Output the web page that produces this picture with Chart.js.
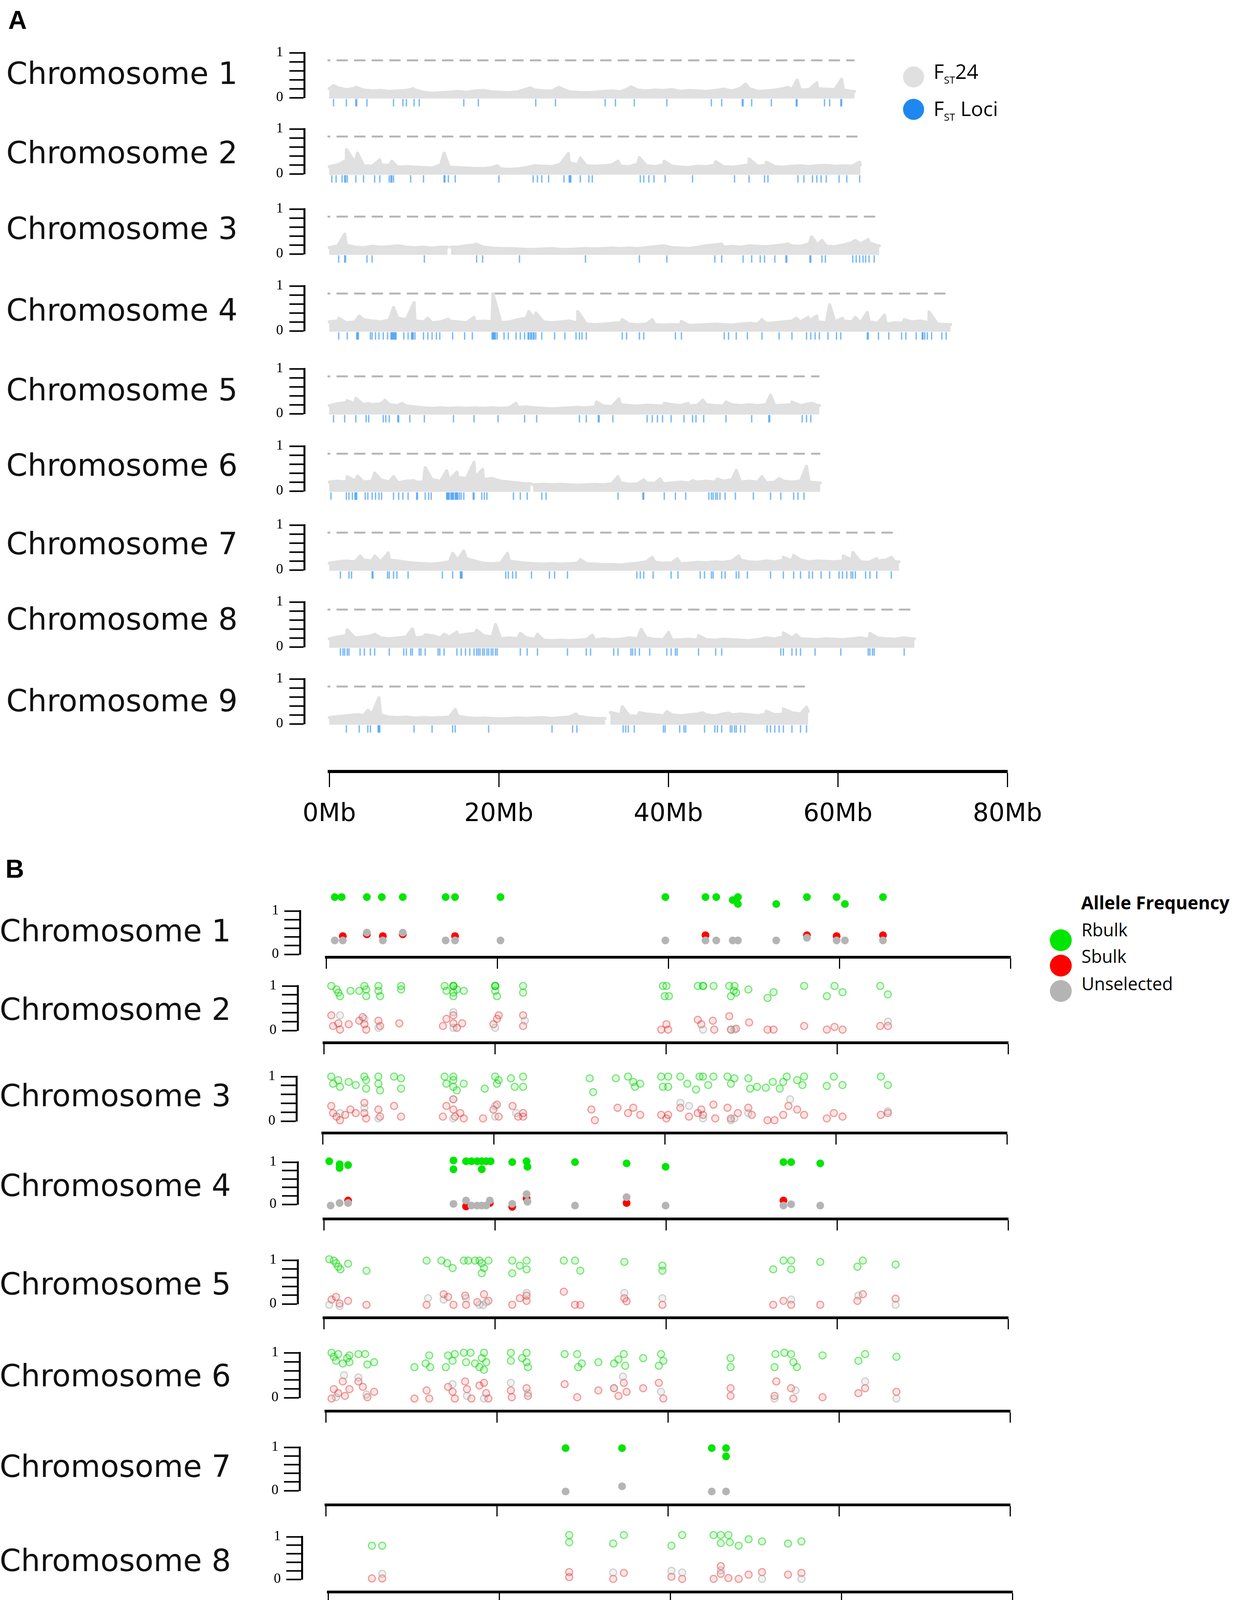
<!DOCTYPE html>
<html><head><meta charset="utf-8">
<script src="https://cdn.jsdelivr.net/npm/chart.js@4.4.1/dist/chart.umd.min.js"></script>
<style>
html,body{margin:0;padding:0;background:#fff;}
#page{position:relative;width:3162px;height:4457px;overflow:hidden;background:#fff;}
canvas{position:absolute;}
.chr{position:absolute;font-family:"DejaVu Sans";font-size:78px;line-height:1;color:#111;white-space:nowrap;}
.panel{position:absolute;font-family:"Liberation Sans";font-weight:bold;font-size:66px;line-height:1;color:#000;}
.leg{position:absolute;font-family:"Open Sans";line-height:1;color:#000;white-space:nowrap;}
.leg sub{font-size:50%;vertical-align:-0.45em;line-height:0;}
.dot{position:absolute;border-radius:50%;}
</style></head>
<body><div id="page"></div>
<script>
// ================= DATA =================
const chromosomes = ['Chromosome 1','Chromosome 2','Chromosome 3','Chromosome 4','Chromosome 5','Chromosome 6','Chromosome 7','Chromosome 8','Chromosome 9'];
const chromLengthMb = [61.3, 62.0, 64.2, 72.5, 57.2, 57.3, 66.5, 68.3, 55.9];
const xTickLabels = ['0Mb','20Mb','40Mb','60Mb','80Mb'];
const yTickLabels = ['0','1'];
const fstThreshold = 0.83;

// FST24 per 1-Mb bin (panel A, grey trace)
const fstChr1 = [0.20,0.22,0.18,0.21,0.17,0.15,0.16,0.14,0.15,0.16, 0.17,0.12,0.10,0.11,0.12,0.14,0.12,0.15,0.16,0.13, 0.12,0.11,0.13,0.19,0.17,0.15,0.15,0.21,0.13,0.12, 0.11,0.12,0.14,0.15,0.13,0.21,0.17,0.15,0.17,0.16, 0.18,0.14,0.16,0.15,0.14,0.16,0.19,0.15,0.21,0.20, 0.14,0.15,0.17,0.20,0.18,0.17,0.18,0.20,0.19,0.18, 0.17,0.14];
const fstChr2 = [0.16,0.20,0.30,0.25,0.18,0.17,0.20,0.19,0.15,0.16, 0.15,0.14,0.13,0.20,0.15,0.14,0.13,0.12,0.12,0.14, 0.11,0.10,0.11,0.14,0.18,0.17,0.16,0.22,0.25,0.20, 0.18,0.17,0.18,0.20,0.17,0.16,0.22,0.18,0.16,0.20, 0.17,0.15,0.14,0.17,0.16,0.19,0.16,0.15,0.17,0.20, 0.17,0.19,0.16,0.15,0.17,0.18,0.16,0.18,0.19,0.17, 0.18,0.17,0.20];
const fstChr3 = [0.14,0.18,0.20,0.15,0.14,0.17,0.15,0.16,0.18,0.15, 0.14,0.15,0.13,0.15,0.12,0.15,0.18,0.20,0.15,0.13, 0.12,0.12,0.11,0.10,0.10,0.11,0.12,0.10,0.10,0.11, 0.12,0.11,0.12,0.13,0.12,0.13,0.12,0.14,0.16,0.18, 0.14,0.13,0.12,0.15,0.18,0.20,0.15,0.17,0.15,0.18, 0.17,0.16,0.18,0.20,0.18,0.17,0.22,0.20,0.17,0.16, 0.20,0.25,0.22,0.25,0.18];
const fstChr4 = [0.20,0.22,0.18,0.20,0.25,0.22,0.20,0.24,0.28,0.25, 0.22,0.20,0.18,0.20,0.22,0.20,0.18,0.20,0.22,0.20, 0.18,0.20,0.25,0.28,0.25,0.20,0.18,0.20,0.22,0.17, 0.15,0.14,0.15,0.17,0.18,0.15,0.14,0.15,0.14,0.13, 0.14,0.13,0.12,0.13,0.14,0.15,0.14,0.13,0.15,0.17, 0.15,0.16,0.18,0.20,0.22,0.20,0.22,0.20,0.18,0.20, 0.22,0.20,0.18,0.20,0.17,0.15,0.18,0.17,0.20,0.22, 0.18,0.15,0.14];
const fstChr5 = [0.18,0.22,0.25,0.22,0.20,0.20,0.22,0.20,0.18,0.17, 0.15,0.13,0.12,0.13,0.12,0.13,0.12,0.13,0.12,0.13, 0.12,0.13,0.14,0.15,0.13,0.12,0.11,0.12,0.13,0.14, 0.13,0.15,0.17,0.16,0.20,0.18,0.17,0.19,0.18,0.17, 0.20,0.18,0.17,0.19,0.20,0.18,0.17,0.20,0.18,0.20, 0.18,0.20,0.18,0.19,0.20,0.18,0.22,0.18];
const fstChr6 = [0.20,0.22,0.20,0.22,0.20,0.22,0.25,0.20,0.18,0.22, 0.20,0.20,0.25,0.22,0.25,0.30,0.28,0.30,0.25,0.28, 0.22,0.20,0.18,0.16,0.14,0.15,0.14,0.15,0.14,0.13, 0.14,0.15,0.14,0.16,0.18,0.15,0.16,0.18,0.17,0.16, 0.18,0.20,0.18,0.20,0.22,0.20,0.22,0.25,0.20,0.22, 0.20,0.18,0.20,0.22,0.20,0.22,0.20,0.18];
const fstChr7 = [0.15,0.18,0.20,0.18,0.22,0.20,0.18,0.22,0.20,0.17, 0.15,0.14,0.13,0.15,0.18,0.22,0.25,0.20,0.15,0.14, 0.15,0.20,0.17,0.15,0.14,0.13,0.14,0.13,0.14,0.15, 0.14,0.13,0.12,0.12,0.11,0.13,0.15,0.18,0.17,0.15, 0.16,0.14,0.15,0.17,0.16,0.18,0.17,0.20,0.22,0.18, 0.17,0.20,0.18,0.22,0.20,0.22,0.18,0.20,0.19,0.18, 0.20,0.22,0.18,0.17,0.20,0.22,0.18];
const fstChr8 = [0.18,0.22,0.25,0.20,0.22,0.25,0.20,0.18,0.20,0.22, 0.20,0.22,0.25,0.20,0.22,0.25,0.28,0.30,0.25,0.22, 0.18,0.20,0.18,0.20,0.17,0.15,0.14,0.15,0.14,0.15, 0.16,0.15,0.18,0.16,0.17,0.20,0.18,0.20,0.17,0.16, 0.15,0.16,0.17,0.15,0.16,0.15,0.17,0.16,0.15,0.14, 0.16,0.20,0.18,0.22,0.20,0.18,0.17,0.16,0.18,0.17, 0.16,0.18,0.20,0.17,0.20,0.18,0.17,0.20,0.18];
const fstChr9 = [0.14,0.16,0.18,0.20,0.18,0.22,0.20,0.15,0.14,0.15, 0.13,0.14,0.13,0.14,0.15,0.17,0.14,0.12,0.13,0.12, 0.11,0.12,0.13,0.12,0.13,0.14,0.12,0.14,0.15,0.17, 0.14,0.12,0.12,0.25,0.20,0.18,0.17,0.22,0.20,0.18, 0.20,0.18,0.20,0.22,0.20,0.18,0.22,0.20,0.22,0.20, 0.18,0.22,0.20,0.22,0.25,0.22,0.28];

// FST24 local peaks [Mb, FST]
const fstPeaksChr1 = [[0.5,0.27],[3.1,0.23],[9.8,0.20],[23.4,0.22],[26.8,0.23],[35.2,0.24],[48.6,0.30],[53.5,0.23],[54.6,0.39],[56.9,0.33],[59.8,0.41]];
const fstPeaksChr2 = [[2.0,0.54],[3.3,0.46],[5.9,0.31],[7.3,0.28],[13.4,0.46],[19.6,0.18],[27.9,0.45],[29.3,0.35],[33.7,0.28],[36.2,0.36],[39.1,0.28],[45.1,0.27],[49.0,0.33],[51.0,0.26],[61.9,0.26]];
const fstPeaksChr3 = [[1.8,0.44],[17.1,0.22],[39.1,0.18],[45.8,0.22],[53.5,0.22],[56.3,0.38],[57.5,0.30],[61.4,0.30],[62.9,0.32]];
const fstPeaksChr4 = [[1.1,0.28],[3.5,0.33],[7.5,0.52],[9.9,0.63],[11.5,0.28],[13.9,0.26],[16.9,0.30],[19.1,0.83],[19.9,0.28],[23.3,0.43],[24.1,0.40],[29.0,0.43],[34.2,0.25],[37.7,0.25],[41.1,0.21],[50.5,0.25],[54.5,0.28],[55.9,0.30],[56.9,0.33],[58.4,0.58],[59.9,0.28],[61.4,0.30],[62.8,0.41],[64.8,0.35],[67.1,0.25],[68.5,0.21],[70.0,0.42]];
const fstPeaksChr5 = [[2.1,0.29],[3.1,0.34],[4.5,0.23],[6.5,0.30],[8.5,0.23],[21.8,0.23],[31.2,0.26],[33.8,0.33],[39.1,0.23],[41.9,0.23],[43.6,0.30],[46.3,0.26],[51.5,0.41],[54.0,0.26],[56.4,0.23]];
const fstPeaksChr6 = [[2.1,0.32],[3.3,0.33],[5.3,0.40],[7.5,0.32],[9.9,0.23],[11.2,0.52],[13.7,0.45],[14.9,0.42],[16.9,0.64],[17.9,0.48],[33.7,0.32],[36.7,0.25],[38.6,0.27],[42.4,0.23],[45.3,0.27],[47.5,0.46],[50.5,0.32],[52.5,0.28],[55.7,0.55]];
const fstPeaksChr7 = [[3.6,0.31],[5.3,0.31],[6.9,0.38],[14.4,0.37],[15.7,0.42],[20.8,0.37],[29.3,0.23],[37.7,0.28],[40.6,0.25],[47.8,0.31],[53.0,0.28],[54.2,0.32],[60.0,0.31],[61.1,0.39],[63.9,0.25],[65.6,0.28]];
const fstPeaksChr8 = [[2.1,0.38],[5.3,0.28],[9.7,0.40],[11.2,0.27],[13.4,0.28],[14.9,0.33],[17.2,0.37],[19.4,0.50],[22.3,0.30],[24.3,0.28],[30.7,0.26],[36.4,0.39],[39.6,0.32],[43.1,0.25],[53.0,0.31],[54.5,0.27],[63.1,0.30],[65.3,0.18]];
const fstPeaksChr9 = [[3.6,0.20],[4.5,0.30],[5.8,0.58],[14.7,0.32],[28.8,0.22],[34.2,0.38],[36.2,0.25],[39.4,0.27],[43.6,0.25],[46.6,0.24],[51.0,0.28],[53.0,0.33],[55.7,0.37]];
const fstGapsMb = [[],[],[[13.8,14.2]],[],[],[[23.5,23.8]],[],[],[[32.2,32.8]]];

// FST loci positions (Mb), panel A blue marks
const lociChr1 = [0.5,2.0,3.1,3.2,4.4,7.5,8.6,9.0,9.9,10.5,15.7,17.4,24.1,26.4,32.2,33.4,35.6,39.4,44.6,45.8,48.2,48.3,49.3,51.6,54.5,54.6,57.8,58.4,59.7,59.8];
const lociChr2 = [0.3,0.8,1.5,1.8,1.9,2.1,3.1,4.0,5.3,5.9,7.0,7.2,7.3,7.5,9.5,11.0,13.4,13.5,13.9,14.7,19.8,23.8,24.3,24.8,25.6,27.4,28.0,28.1,28.2,29.3,30.3,30.7,36.3,36.7,37.3,37.9,39.2,42.4,47.3,49.0,50.8,51.2,54.7,55.4,56.4,56.9,57.4,58.0,59.5,60.4,61.9];
const lociChr3 = [1.1,1.8,1.9,4.4,5.0,11.1,17.2,17.9,22.2,29.9,36.2,39.4,45.0,45.8,48.3,49.3,50.3,50.8,52.0,53.3,53.4,56.1,56.2,57.5,57.9,61.1,61.5,61.9,62.3,62.6,63.0,63.6];
const lociChr4 = [1.1,2.1,3.2,3.3,3.4,4.8,5.0,5.4,5.8,6.3,6.8,7.2,7.3,7.4,7.5,7.6,7.7,7.8,8.7,9.2,9.6,9.7,9.8,10.0,11.0,11.5,12.0,12.5,12.9,14.4,15.8,16.7,19.0,19.1,19.2,19.3,19.4,19.6,20.4,20.9,21.8,22.3,22.8,23.2,23.3,23.5,23.6,23.8,23.9,24.1,24.8,26.3,27.5,28.8,29.2,29.5,30.0,34.2,34.7,36.2,36.7,40.4,41.1,46.1,46.6,47.5,48.8,50.5,52.5,54.0,55.7,56.2,56.7,57.2,58.2,59.2,59.7,62.8,62.9,64.1,65.3,66.8,67.3,68.5,69.2,69.3,69.5,69.8,70.3,71.5,72.0];
const lociChr5 = [0.5,1.8,3.1,4.3,4.6,6.3,6.6,7.0,8.0,8.1,9.4,11.1,14.5,16.9,19.7,22.8,24.2,29.2,30.0,31.4,31.5,33.1,37.1,37.7,38.3,38.9,39.9,41.4,42.4,42.8,43.7,46.3,49.3,51.3,51.4,55.2,55.7,56.2];
const lociChr6 = [0.2,2.0,2.3,2.7,3.0,3.1,3.2,4.2,4.5,5.0,5.4,5.8,6.1,7.5,8.1,8.6,9.2,10.2,10.3,11.2,11.6,11.9,13.7,13.8,13.9,14.0,14.2,14.3,14.4,14.5,14.7,14.8,14.9,15.0,15.2,15.4,15.7,16.8,16.9,17.8,18.1,18.4,21.5,22.3,23.1,24.8,25.3,33.7,36.6,36.7,39.1,40.4,41.6,44.3,44.6,44.8,45.1,45.3,45.6,46.2,47.4,49.5,51.5,52.7,54.2,54.7,55.4];
const lociChr7 = [1.3,2.3,2.6,5.0,5.1,6.8,7.0,7.5,7.9,9.2,13.2,14.4,15.3,15.4,15.5,20.6,20.9,21.4,21.8,23.6,25.7,26.3,27.8,35.9,36.3,36.7,37.8,39.9,40.7,43.3,43.8,44.6,44.8,45.8,46.2,47.5,47.8,48.8,51.5,53.0,54.2,55.0,56.0,56.4,57.4,58.4,59.5,59.9,60.4,60.9,61.1,61.4,62.6,63.1,63.9,65.6];
const lociChr8 = [1.3,1.6,1.8,2.1,2.3,3.6,4.1,4.8,5.3,7.0,8.7,9.0,9.5,9.7,10.5,10.7,11.2,12.7,12.9,13.4,14.9,15.4,15.9,16.4,16.9,17.2,17.4,17.6,17.9,18.1,18.4,18.6,18.9,19.1,19.4,19.6,22.3,23.1,24.3,27.8,30.0,30.5,33.2,33.7,35.2,35.4,35.7,36.2,37.4,39.4,39.9,40.4,40.6,43.1,45.1,45.8,52.7,53.0,54.0,54.5,55.0,56.7,59.7,62.9,63.1,63.4,63.6,67.1];
const lociChr9 = [2.0,3.5,4.5,4.8,5.7,5.8,5.9,9.9,12.0,14.4,14.7,18.6,26.0,28.4,28.9,34.3,34.6,34.9,35.6,39.0,39.2,40.9,41.4,41.6,43.8,45.0,45.3,45.8,46.8,47.0,47.3,47.5,48.0,48.5,51.1,51.5,52.0,52.5,53.0,54.0,55.0,55.7];

// Panel B allele frequencies [Mb, frequency]
const rbulkChr1 = [[1.01,1.32],[1.82,1.32],[4.76,1.32],[6.51,1.32],[8.96,1.32],[13.97,1.32],[15.07,1.32],[20.38,1.32],[39.66,1.32],[44.35,1.32],[45.61,1.32],[47.53,1.25],[48.14,1.16],[48.14,1.32],[52.62,1.16],[56.21,1.32],[59.68,1.32],[60.65,1.16],[65.1,1.32]];
const sbulkChr1 = [[1.95,0.42],[4.76,0.46],[6.63,0.42],[8.96,0.46],[15.07,0.42],[44.35,0.44],[56.21,0.44],[59.68,0.42],[65.1,0.44]];
const unselChr1 = [[1.01,0.32],[1.95,0.32],[4.76,0.50],[6.63,0.32],[8.96,0.50],[13.97,0.32],[15.07,0.32],[20.38,0.32],[39.66,0.32],[44.35,0.32],[45.61,0.32],[47.53,0.32],[48.14,0.32],[52.62,0.32],[56.21,0.38],[59.68,0.32],[60.65,0.32],[65.1,0.32]];

const rbulkChr2 = [[0.88,1.0],[1.49,0.92],[1.70,0.85],[1.90,0.77],[3.12,0.89],[4.14,0.89],[4.75,1.0],[4.96,0.92],[4.96,0.77],[6.39,1.0],[6.39,0.89],[6.59,0.77],[9.04,1.0],[9.04,0.92],[14.13,1.0],[14.34,0.89],[15.15,1.0],[15.15,1.0],[15.15,1.0],[15.15,0.85],[15.15,0.77],[15.56,0.92],[16.37,0.89],[20.04,1.0],[20.04,1.0],[20.04,1.0],[20.04,0.89],[20.25,0.77],[23.3,1.0],[23.3,0.85],[39.65,1.0],[40.06,1.0],[39.86,0.77],[40.35,0.77],[43.73,1.0],[44.34,1.0],[44.34,1.0],[45.57,1.0],[47.4,1.0],[48.01,1.0],[47.93,0.89],[47.6,0.77],[48.21,0.85],[49.64,0.92],[51.88,0.73],[52.58,0.86],[56.16,1.0],[58.81,0.77],[59.71,1.0],[60.65,0.86],[65.05,1.0],[65.95,0.81]];
const sbulkChr2 = [[0.88,0.34],[1.08,0.10],[1.70,0.16],[1.90,0.02],[2.92,0.14],[4.14,0.22],[4.55,0.30],[4.75,0.14],[4.96,0.02],[6.39,0.22],[6.59,0.10],[8.83,0.16],[13.93,0.10],[14.34,0.26],[15.15,0.34],[15.15,0.16],[15.56,0.06],[16.17,0.16],[19.84,0.14],[20.25,0.26],[20.45,0.34],[23.3,0.34],[23.3,0.10],[40.06,0.14],[39.45,0.02],[40.26,0.02],[43.73,0.24],[44.14,0.14],[45.48,0.22],[45.65,0.02],[47.4,0.32],[47.6,0.02],[48.21,0.04],[49.72,0.18],[51.88,0.02],[52.58,0.02],[56.16,0.10],[58.81,0.02],[59.71,0.08],[60.65,0.02],[65.05,0.10],[65.95,0.10]];
const unselChr2 = [[1.90,0.34],[4.75,0.26],[6.39,0.06],[15.15,0.06],[20.04,0.06],[15.15,0.41],[23.5,0.22],[44.34,0.02],[47.6,0.02],[48.01,0.02],[65.95,0.20]];

const rbulkChr3 = [[1.01,1.0],[1.22,0.84],[1.83,0.92],[2.03,0.77],[3.05,0.88],[3.87,0.81],[4.88,1.0],[5.09,0.92],[5.09,0.73],[6.52,1.0],[6.52,0.84],[6.72,0.69],[8.35,1.0],[9.17,0.96],[9.17,0.73],[14.26,1.0],[14.47,0.84],[15.28,1.0],[15.28,0.92],[15.28,0.77],[15.69,0.69],[16.5,0.84],[18.95,0.73],[20.17,1.0],[20.38,0.84],[20.58,0.92],[22.01,0.96],[22.46,0.77],[23.44,1.0],[23.44,0.77],[31.22,0.96],[31.63,0.65],[34.28,0.96],[35.71,1.0],[36.32,0.88],[36.52,0.77],[37.13,0.84],[39.58,1.0],[40.4,1.0],[39.78,0.77],[40.4,0.77],[41.82,1.0],[42.64,0.84],[43.66,0.71],[44.06,1.0],[44.47,1.0],[45.08,0.81],[45.69,1.0],[47.33,1.0],[47.73,0.84],[48.14,0.96],[49.77,0.96],[49.98,0.73],[50.79,0.77],[51.81,0.75],[52.63,0.88],[53.85,0.88],[54.26,1.0],[53.44,0.73],[55.48,0.92],[56.29,1.0],[56.09,0.81],[58.94,0.79],[59.76,1.0],[60.78,0.81],[65.26,1.0],[66.08,0.81]];
const sbulkChr3 = [[1.01,0.34],[1.22,0.18],[1.63,0.10],[2.03,0.02],[2.64,0.14],[3.25,0.26],[3.87,0.18],[4.88,0.41],[4.88,0.18],[5.09,0.06],[6.52,0.26],[6.72,0.10],[8.35,0.34],[9.17,0.10],[14.06,0.10],[14.47,0.34],[15.28,0.49],[15.28,0.26],[15.48,0.10],[16.1,0.18],[16.5,0.06],[18.75,0.06],[19.97,0.26],[20.38,0.37],[20.58,0.10],[22.21,0.34],[23.44,0.18],[23.44,0.10],[22.86,0.10],[31.42,0.26],[31.83,0.02],[34.48,0.30],[35.71,0.18],[36.32,0.30],[37.13,0.14],[39.58,0.14],[40.4,0.14],[40.19,0.06],[41.82,0.30],[42.84,0.10],[43.86,0.18],[44.27,0.26],[44.47,0.14],[45.69,0.37],[45.9,0.06],[47.33,0.30],[47.73,0.06],[48.55,0.18],[49.77,0.30],[50.18,0.14],[52.01,0.02],[52.83,0.02],[53.85,0.14],[54.46,0.34],[55.48,0.26],[56.29,0.14],[58.94,0.06],[59.76,0.18],[60.78,0.10],[65.26,0.14],[66.08,0.18]];
const unselChr3 = [[2.03,0.18],[4.88,0.30],[6.52,0.06],[15.28,0.49],[15.28,0.06],[20.17,0.10],[20.17,0.34],[22.62,0.18],[41.82,0.41],[44.47,0.06],[47.73,0.02],[48.14,0.06],[49.77,0.18],[54.66,0.49],[42.84,0.34],[66.08,0.22]];

const rbulkChr4 = [[0.64,1.02],[1.85,0.95],[1.85,0.86],[2.84,0.93],[15.16,1.04],[15.16,0.83],[16.63,1.02],[17.26,1.02],[17.94,1.02],[18.47,1.02],[18.47,0.83],[18.99,1.02],[19.51,1.02],[22.03,1.0],[23.71,1.02],[23.81,0.89],[29.37,1.0],[35.40,0.97],[39.96,0.89],[53.74,1.0],[54.64,1.0],[58.04,0.97]];
const sbulkChr4 = [[2.84,0.09],[16.63,-0.05],[19.41,0.03],[22.03,-0.06],[23.71,0.14],[35.40,0.03],[53.74,0.09]];
const unselChr4 = [[0.80,-0.03],[1.85,0.03],[2.84,0.03],[15.16,0.01],[16.63,0.09],[17.26,-0.03],[17.94,-0.03],[18.47,-0.03],[18.99,-0.03],[19.41,0.09],[22.03,0.01],[23.71,0.24],[23.81,0.06],[29.37,-0.03],[35.40,0.17],[39.96,-0.03],[53.74,-0.03],[54.64,0.0],[58.04,-0.03]];

const rbulkChr5 = [[0.64,1.02],[1.17,0.99],[1.43,0.93],[1.69,0.85],[1.95,0.79],[2.84,0.92],[4.99,0.76],[12.02,0.99],[13.75,0.99],[14.43,0.93],[15.06,0.82],[16.37,0.99],[16.89,0.99],[17.68,0.99],[18.20,0.99],[18.47,0.93],[18.73,0.82],[18.47,0.70],[19.25,0.99],[22.03,0.99],[22.03,0.70],[22.92,0.875],[23.71,0.99],[23.71,0.79],[28.06,0.99],[29.37,0.99],[29.99,0.76],[35.14,0.96],[39.59,0.875],[39.59,0.76],[52.54,0.79],[53.74,0.99],[54.64,0.99],[54.64,0.79],[58.04,0.96],[62.39,0.85],[63.02,0.99],[66.85,0.90]];
const sbulkChr5 = [[0.91,0.10],[1.43,0.16],[1.85,0.01],[2.84,0.07],[4.99,-0.02],[12.02,-0.02],[14.01,0.22],[14.53,0.16],[15.16,-0.02],[16.53,0.19],[16.63,-0.02],[17.94,0.04],[18.73,0.22],[19.25,0.07],[22.03,-0.02],[22.92,0.13],[23.71,0.19],[23.71,0.07],[28.06,0.28],[29.37,-0.02],[29.99,-0.02],[35.14,0.13],[35.40,0.06],[39.59,-0.02],[52.54,-0.02],[53.74,0.07],[54.64,-0.02],[58.04,-0.02],[62.39,0.07],[63.02,0.22],[66.85,0.12]];
const unselChr5 = [[0.64,-0.02],[1.85,-0.05],[12.18,0.13],[14.01,0.10],[16.63,0.13],[18.20,-0.02],[18.62,-0.03],[18.99,0.04],[23.71,0.25],[35.14,0.25],[39.59,0.13],[54.64,0.10],[62.50,0.19],[66.85,-0.02]];

const rbulkChr6 = [[0.68,1.0],[0.94,0.91],[1.20,0.82],[1.46,0.97],[1.99,0.76],[2.51,0.88],[2.77,0.94],[2.77,0.79],[3.82,0.97],[4.61,0.97],[4.87,0.74],[5.66,0.79],[10.37,0.68],[11.68,0.76],[12.10,0.94],[12.21,0.68],[14.04,0.68],[14.30,0.94],[14.83,0.82],[15.09,0.97],[16.14,1.0],[16.40,0.79],[16.93,1.0],[17.45,0.76],[17.97,0.68],[18.24,0.88],[18.50,1.0],[18.50,0.62],[18.76,0.79],[21.64,1.0],[21.64,0.82],[22.95,0.88],[23.48,1.0],[23.64,0.68],[23.48,0.79],[27.93,0.97],[29.40,0.97],[29.51,0.68],[29.93,0.76],[31.87,0.79],[33.70,0.76],[34.22,0.85],[34.85,0.97],[35.01,0.71],[37.11,0.88],[38.94,0.71],[39.20,0.97],[39.47,0.82],[47.33,0.88],[47.33,0.68],[52.47,0.68],[52.57,0.97],[53.62,1.0],[54.40,0.97],[54.67,0.79],[55.09,0.68],[58.08,0.94],[62.27,0.82],[63.06,0.97],[66.72,0.91]];
const sbulkChr6 = [[0.68,-0.02],[0.94,0.19],[1.46,0.10],[1.99,0.36],[2.25,0.04],[2.77,0.19],[3.82,0.36],[4.34,0.24],[4.87,0.01],[5.66,0.13],[10.37,-0.02],[11.79,0.16],[12.10,-0.02],[14.30,0.24],[14.83,0.13],[15.09,-0.02],[16.30,0.36],[16.51,0.19],[17.03,-0.02],[17.97,0.27],[18.50,0.33],[18.76,0.10],[19.02,-0.02],[21.64,0.16],[21.75,0.01],[23.48,0.21],[23.64,0.04],[27.93,0.30],[29.40,0.01],[31.87,0.16],[33.70,0.21],[34.22,0.04],[34.85,0.33],[35.17,0.13],[37.11,0.21],[38.94,0.33],[39.47,-0.02],[47.33,0.21],[47.33,0.04],[52.47,0.04],[52.68,0.36],[54.40,0.21],[54.67,-0.02],[58.08,0.01],[62.27,0.10],[63.06,0.21],[66.72,0.13]];
const unselChr6 = [[1.20,0.01],[2.14,0.50],[3.82,0.45],[4.76,0.07],[14.83,0.30],[16.51,0.04],[18.50,-0.02],[21.64,0.33],[23.64,0.10],[33.70,0.21],[34.75,0.47],[39.20,0.13],[52.47,-0.02],[54.93,0.16],[63.06,0.36],[66.72,-0.02]];

const rbulkChr7 = [[28.04,0.98],[34.64,0.98],[45.13,0.98],[46.80,0.98],[46.80,0.79]];
const sbulkChr7 = [];
const unselChr7 = [[28.04,-0.02],[34.64,0.10],[45.13,-0.02],[46.80,-0.02]];

const rbulkChr8 = [[5.12,0.79],[6.33,0.79],[28.19,1.04],[28.19,0.87],[33.33,0.84],[34.58,1.04],[40.14,0.79],[41.40,1.04],[45.07,1.04],[45.91,1.04],[46.80,1.04],[45.91,0.85],[46.96,0.87],[48.00,0.79],[49.16,0.94],[50.73,0.89],[53.77,0.84],[55.34,0.89]];
const sbulkChr8 = [[5.12,0.02],[6.33,0.02],[28.19,0.17],[28.19,0.05],[33.33,0.01],[34.58,0.15],[40.14,0.06],[41.40,0.01],[45.07,0.01],[45.91,0.31],[45.91,0.13],[46.80,0.03],[48.00,0.01],[49.16,0.11],[50.73,0.17],[53.77,0.11],[55.34,0.15]];
const unselChr8 = [[6.33,0.13],[33.33,0.16],[40.14,0.20],[41.40,0.16],[45.91,0.21],[50.73,0.01],[55.34,0.01]];

const rbulkChr9 = [[3.06,0.83],[3.06,0.72],[4.11,0.94],[4.89,1.02],[5.16,0.94],[4.63,0.69],[6.20,0.78],[6.20,0.65],[6.47,0.85],[14.75,0.81],[27.96,1.02],[27.96,0.85],[27.96,0.75],[33.20,0.81],[34.35,1.02],[34.35,0.94],[35.03,0.75],[36.24,0.69],[38.18,0.69],[40.01,0.78],[41.22,1.02],[42.37,0.65],[43.16,0.94],[43.16,0.72],[44.99,1.02],[45.68,1.02],[46.57,1.02],[45.68,0.81],[46.72,0.85],[47.25,0.69],[48.14,0.78],[48.93,0.91],[49.97,0.91],[50.50,0.85],[51.02,0.69],[51.97,0.69],[52.07,0.85],[53.54,0.83],[55.22,1.02],[55.22,0.88],[54.69,0.69]];
const sbulkChr9 = [[3.06,0.20],[3.06,0.04],[4.11,0.31],[4.89,0.04],[5.16,0.23],[5.16,0.39],[6.20,0.17],[6.36,0.04],[14.75,0.14],[27.96,0.17],[27.96,0.04],[33.20,0.17],[33.46,0.04],[34.35,0.35],[34.51,0.20],[35.03,0.10],[36.24,0.02],[38.18,0.04],[40.01,0.04],[41.22,0.39],[41.32,0.20],[42.64,0.02],[43.16,0.35],[43.16,0.04],[44.99,0.04],[45.68,0.31],[46.57,0.14],[46.72,0.02],[47.77,0.02],[48.93,0.14],[50.50,0.20],[50.76,0.02],[51.97,0.17],[52.07,0.02],[53.54,0.14],[55.11,0.36],[55.22,0.17],[54.69,0.02]];
const unselChr9 = [[5.16,0.46],[6.20,0.10],[27.96,0.04],[33.20,0.35],[40.01,0.17],[41.32,0.10],[42.90,0.20],[45.68,0.10],[50.50,0.04],[53.54,0.27],[54.69,0.04]];

const fstBins = [fstChr1,fstChr2,fstChr3,fstChr4,fstChr5,fstChr6,fstChr7,fstChr8,fstChr9];
const fstPeaks = [fstPeaksChr1,fstPeaksChr2,fstPeaksChr3,fstPeaksChr4,fstPeaksChr5,fstPeaksChr6,fstPeaksChr7,fstPeaksChr8,fstPeaksChr9];
const loci = [lociChr1,lociChr2,lociChr3,lociChr4,lociChr5,lociChr6,lociChr7,lociChr8,lociChr9];
const rbulk = [rbulkChr1,rbulkChr2,rbulkChr3,rbulkChr4,rbulkChr5,rbulkChr6,rbulkChr7,rbulkChr8,rbulkChr9];
const sbulk = [sbulkChr1,sbulkChr2,sbulkChr3,sbulkChr4,sbulkChr5,sbulkChr6,sbulkChr7,sbulkChr8,sbulkChr9];
const unsel = [unselChr1,unselChr2,unselChr3,unselChr4,unselChr5,unselChr6,unselChr7,unselChr8,unselChr9];

// ================= LAYOUT / STYLE =================
const A_Y1 = [135,330,535,732,944,1142,1344,1541,1738];
const A_AXIS_H = 115;
const A_LABEL_CY = [187,390,584,793,997,1190,1391,1584,1793];
const A_YAXIS_X = 779, A_X0 = 843, A_X80 = 2598;
const A_XAXIS_Y = 1975;
const B_Y1 = [2332,2524,2756,2975,3226,3463,3705,3934,4168];
const B_Y0 = [2443,2638,2870,3083,3338,3578,3816,4043,4282];
const B_AXIS_Y = [2450,2669,2900,3120,3373,3612,3852,4075,4316];
const B_X0 = [835,829,826,829,829,834,834,840,845];
const B_LABEL_CY = [2382,2583,2804,3034,3286,3521,3753,3994,4229];
const B_PX_PER_MB = 21.9, B_YAXIS_GAP = 67;
const opaqueRows = [true,false,false,true,false,false,true,false,false];

const GREY_FST = '#e0e0e0', BLUE_LOCI = 'rgba(30,136,240,0.58)', DASH = '#b7b7b7';
const GREEN = '#00e600', RED = '#ff0000', GREY_PT = '#b4b4b4';

const page = document.getElementById('page');
function makeCanvas(left, top, w, h){
  const c = document.createElement('canvas');
  c.width = w; c.height = h;
  c.style.left = left+'px'; c.style.top = top+'px';
  c.style.width = w+'px'; c.style.height = h+'px';
  page.appendChild(c); return c;
}
function addDiv(cls, html, left, top, extra){
  const d = document.createElement('div'); d.className = cls; d.innerHTML = html;
  d.style.left = left+'px'; d.style.top = top+'px';
  if (extra) Object.assign(d.style, extra);
  page.appendChild(d); return d;
}
function dot(cx, cy, r, color){
  addDiv('dot','',cx-r,cy-r,{width:(2*r)+'px',height:(2*r)+'px',background:color});
}

Chart.defaults.animation = false;
Chart.defaults.plugins.legend.display = false;
Chart.defaults.plugins.tooltip.enabled = false;
Chart.defaults.events = [];

// let marks that sit just outside the 0..1 axis bracket (jittered / offset values) be drawn
const drawOutsideArea = {
  id:'drawOutsideArea',
  beforeDatasetsDraw(chart){
    const a = chart.chartArea;
    chart.$savedArea = {left:a.left, right:a.right, top:a.top, bottom:a.bottom, width:a.width, height:a.height};
    a.left = 0; a.top = 0; a.right = chart.width; a.bottom = chart.height; a.width = chart.width; a.height = chart.height;
  },
  afterDatasetsDraw(chart){
    Object.assign(chart.chartArea, chart.$savedArea);
  }
};

function yTick(v){
  if (Math.abs(v) < 1e-9) return yTickLabels[0];
  if (Math.abs(v-1) < 1e-9) return yTickLabels[1];
  return '';
}
function yAxisOpts(width, tickLen, pad){
  return {
    type:'linear', min:0, max:1,
    afterFit: s => { s.width = width; },
    border:{display:true, color:'#000', width:5},
    grid:{display:true, drawOnChartArea:false, drawTicks:true, tickLength:tickLen, tickColor:'#000', tickWidth:4},
    ticks:{stepSize:0.2, padding:pad, color:'#000', font:{family:'Liberation Serif', size:36}, callback:yTick, autoSkip:false}
  };
}

function fstSegments(i){
  const bins = fstBins[i], len = chromLengthMb[i];
  let pts = bins.map((v,k)=>({x:k, y:v})).filter(p => p.x <= len);
  fstPeaks[i].forEach(([x,y]) => pts.push({x, y}));
  pts.push({x:len, y:bins[bins.length-1]});
  pts.sort((a,b)=>a.x-b.x);
  let segs = [pts];
  fstGapsMb[i].forEach(([g0,g1]) => {
    const out = [];
    segs.forEach(seg => {
      const a = seg.filter(p=>p.x<g0), b = seg.filter(p=>p.x>g1);
      if (a.length && b.length){ a.push({x:g0,y:a[a.length-1].y}); b.unshift({x:g1,y:b[0].y}); out.push(a,b); }
      else out.push(seg);
    });
    segs = out;
  });
  return segs;
}

// ---------- Panel A ----------
addDiv('panel','A',21,18);
chromosomes.forEach((name,i) => {
  addDiv('chr', name, 16, A_LABEL_CY[i]-38);
  const left = 560, right = 2640, padT = 60, padB = 60;
  const cv = makeCanvas(left, A_Y1[i]-padT, right-left, A_AXIS_H+padT+padB);
  const datasets = [];
  fstSegments(i).forEach(seg => datasets.push({
    type:'line', data:seg, borderColor:GREY_FST, backgroundColor:GREY_FST, borderWidth:8,
    fill:{value:-0.02}, pointRadius:0, tension:0, borderCapStyle:'round', borderJoinStyle:'round', clip:false, order:3
  }));
  datasets.push({
    type:'scatter', data:loci[i].map(x=>({x, y:-0.113})), pointStyle:'line', pointRotation:90,
    pointRadius:9.5, pointBorderWidth:3.5, pointBorderColor:BLUE_LOCI, pointBackgroundColor:BLUE_LOCI, clip:false, order:2
  });
  datasets.push({
    type:'line', data:[{x:-0.2,y:fstThreshold},{x:chromLengthMb[i],y:fstThreshold}], borderColor:DASH, borderWidth:5,
    borderDash:[29,16], borderDashOffset:22, pointRadius:0, fill:false, clip:false, order:1
  });
  const xMin = -(A_X0-A_YAXIS_X)/((A_X80-A_X0)/80);
  new Chart(cv, {type:'scatter', data:{datasets}, plugins:[drawOutsideArea], options:{
    responsive:false, devicePixelRatio:1,
    layout:{padding:{left:0, right:right-A_X80, top:padT, bottom:padB}},
    scales:{
      x:{type:'linear', display:false, min:xMin, max:80},
      y:yAxisOpts(A_YAXIS_X-left, 38, 16)
    }
  }});
});
// Panel A shared x axis
(function(){
  const left = 700, top = 1940, w = 2000, h = 200, axH = top+h-A_XAXIS_Y;
  const cv = makeCanvas(left, top, w, h);
  new Chart(cv, {type:'scatter', data:{datasets:[]}, options:{
    responsive:false, devicePixelRatio:1,
    layout:{padding:{left:A_X0-left, right:left+w-A_X80, top:25, bottom:0}},
    scales:{
      x:{type:'linear', position:'bottom', min:0, max:80, afterFit:s=>{s.height=axH;},
         border:{display:true,color:'#000',width:8},
         grid:{drawOnChartArea:false, drawTicks:true, tickLength:40, tickColor:'#000', tickWidth:3},
         ticks:{stepSize:20, padding:32, color:'#000', maxRotation:0, autoSkip:false, font:{family:'DejaVu Sans', size:64}, callback:v=>xTickLabels[Math.round(v/20)]}},
      y:{display:false, min:0, max:1}
    }
  }});
})();
// Panel A legend
dot(2339,197,27,GREY_FST); dot(2339,280,27,'#1e88f0');
addDiv('leg','F<sub>ST</sub>24',2390,156,{fontSize:'52px'});
addDiv('leg','F<sub>ST</sub> Loci',2390,251,{fontSize:'52px'});

// ---------- Panel B ----------
addDiv('panel','B',14,2191);
chromosomes.forEach((name,i) => {
  addDiv('chr', name, -1, B_LABEL_CY[i]-38);
  const x0 = B_X0[i], y1 = B_Y1[i], y0 = B_Y0[i];
  const axisX = x0 - B_YAXIS_GAP, x80 = x0 + 80*B_PX_PER_MB;
  const left = 560, right = x80 + 40, padT = 60, padB = 60;
  const cv = makeCanvas(left, y1-padT, right-left, (y0-y1)+padT+padB);
  const op = opaqueRows[i];
  const r = op ? 10 : 9;
  const mk = (arr, fillOp, fillTr, edgeTr, order) => ({
    type:'scatter', data:arr.map(([x,y])=>({x,y})), pointRadius:r, pointStyle:'circle',
    pointBackgroundColor: op ? fillOp : fillTr,
    pointBorderColor: op ? fillOp : edgeTr,
    pointBorderWidth: op ? 0 : 3, clip:false, order
  });
  const datasets = [
    mk(rbulk[i], GREEN, 'rgba(0,225,0,0.13)', 'rgba(0,205,0,0.5)', 3),
    mk(sbulk[i], RED, 'rgba(235,0,0,0.10)', 'rgba(225,40,40,0.45)', 2),
    mk(unsel[i], GREY_PT, 'rgba(170,170,170,0.16)', 'rgba(150,150,150,0.42)', 1)
  ];
  new Chart(cv, {type:'scatter', data:{datasets}, plugins:[drawOutsideArea], options:{
    responsive:false, devicePixelRatio:1,
    layout:{padding:{left:0, right:40, top:padT, bottom:padB}},
    scales:{
      x:{type:'linear', display:false, min:-B_YAXIS_GAP/B_PX_PER_MB, max:80},
      y:yAxisOpts(axisX-left, 40, 14)
    }
  }});
  // per-row x axis
  const last = i === chromosomes.length-1;
  const axH = last ? 150 : 45;
  const acv = makeCanvas(x0-150, B_AXIS_Y[i]-20, 80*B_PX_PER_MB+300, 20+axH);
  new Chart(acv, {type:'scatter', data:{datasets:[]}, options:{
    responsive:false, devicePixelRatio:1,
    layout:{padding:{left:150, right:150, top:10, bottom:0}},
    scales:{
      x:{type:'linear', position:'bottom', min:0, max:80, afterFit:s=>{s.height=axH;},
         border:{display:true,color:'#000',width:7},
         grid:{drawOnChartArea:false, drawTicks:true, tickLength:30, tickColor:'#000', tickWidth:3},
         ticks:{display:last, stepSize:20, padding:39, color:'#000', maxRotation:0, autoSkip:false, font:{family:'DejaVu Sans', size:64}, callback:v=>xTickLabels[Math.round(v/20)]}},
      y:{display:false, min:0, max:1}
    }
  }});
});
// Panel B legend
addDiv('leg','Allele Frequency',2768,2287,{fontSize:'46px',fontWeight:'bold'});
dot(2716,2407,28,GREEN); dot(2716,2472,28,RED); dot(2716,2537,28,GREY_PT);
addDiv('leg','Rbulk',2769,2357,{fontSize:'45px'});
addDiv('leg','Sbulk',2769,2425,{fontSize:'45px'});
addDiv('leg','Unselected',2769,2495,{fontSize:'45px'});
</script>
</body></html>
